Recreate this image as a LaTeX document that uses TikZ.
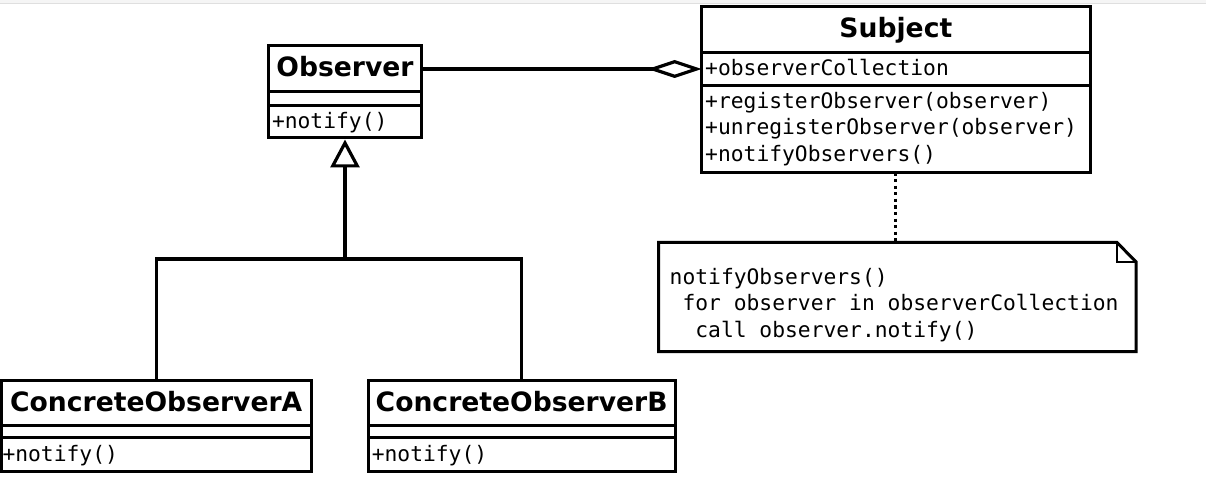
\documentclass[tikz,border=0pt]{standalone}
\usepackage{fontspec}
\newfontfamily\dvsans{DejaVu Sans}
\newfontfamily\dvmono{DejaVu Sans Mono}
\usetikzlibrary{arrows.meta}
\tikzset{
  umlline/.style={line width=3.2pt},
  namebox/.style={draw, line width=3pt, outer sep=0pt, inner sep=0pt,
    font=\dvsans\bfseries\fontsize{26.6}{30}\selectfont,
    text height=19.9pt, text depth=3.4pt},
  emptybox/.style={draw, line width=3pt, outer sep=0pt, inner sep=0pt},
  membox/.style={draw, line width=3pt, outer sep=0pt, inner xsep=3.5pt, inner ysep=0pt,
    align=left, font=\dvmono\fontsize{21.3}{26.5}\selectfont},
  oneline/.style={text height=16pt, text depth=2.1pt},
  notetext/.style={inner sep=0pt, align=left, anchor=north west,
    font=\dvmono\fontsize{21.3}{26.8}\selectfont},
  dotline/.style={line width=3pt, dash pattern=on 3.3pt off 3.3pt},
}
\begin{document}
\begin{tikzpicture}[x=1pt, y=-1pt]
\useasboundingbox (0,0) rectangle (1206,497);
% top band of the screenshot
\fill[gray!8] (0,0) rectangle (1206,3.2);
\draw[gray!25, line width=1pt] (0,3.4) -- (1206,3.4);

% Observer
\node[namebox, minimum width=153pt, minimum height=46.5pt] (obsN) at (345,68.75) {Observer};
\node[emptybox, minimum width=153pt, minimum height=13.5pt, anchor=north] (obsA) at (obsN.south) {};
\node[membox, oneline, text width=146pt, minimum width=153pt, minimum height=32.5pt, anchor=north] (obsM) at (obsA.south) {+notify()};

% Subject
\node[namebox, minimum width=388.3pt, minimum height=45.6pt] (subN) at (895.85,29.5) {Subject};
\node[membox, oneline, text width=381.3pt, minimum width=388.3pt, minimum height=33.4pt, anchor=north] (subA) at (subN.south) {+observerCollection};
\node[membox, text width=381.3pt, minimum width=388.3pt, minimum height=86.6pt, anchor=north] (subM) at (subA.south)
  {+registerObserver(observer)\\+unregisterObserver(observer)\\+notifyObservers()};

% ConcreteObserverA
\node[namebox, minimum width=309.5pt, minimum height=44.3pt] (coAN) at (156.25,402.85) {ConcreteObserverA};
\node[emptybox, minimum width=309.5pt, minimum height=12.7pt, anchor=north] (coAA) at (coAN.south) {};
\node[membox, oneline, inner xsep=1pt, text width=307.5pt, minimum width=309.5pt, minimum height=34pt, anchor=north] (coAM) at (coAA.south) {+notify()};

% ConcreteObserverB
\node[namebox, minimum width=306.7pt, minimum height=44.3pt] (coBN) at (521.65,402.85) {ConcreteObserverB};
\node[emptybox, minimum width=306.7pt, minimum height=12.7pt, anchor=north] (coBA) at (coBN.south) {};
\node[membox, oneline, text width=299.7pt, minimum width=306.7pt, minimum height=34pt, anchor=north] (coBM) at (coBA.south) {+notify()};

% Note
\node[minimum width=477.5pt, minimum height=109.4pt, inner sep=0pt, outer sep=0pt] (note) at (897.25,297) {};
\draw[line width=3pt] (note.north west) -- ([xshift=-19.3pt]note.north east)
  -- ([yshift=-19.4pt]note.north east) -- (note.south east) -- (note.south west) -- cycle;
\draw[line width=2pt] ([xshift=-19.3pt]note.north east) |- ([yshift=-19.4pt]note.north east);
\node[notetext] (noteT) at (669.5,267.8)
  {notifyObservers()\\\ for observer in observerCollection\\\ \ call observer.notify()};

% connectors
\draw[umlline, -{Diamond[open, length=54pt, width=18pt]}] (obsN.east |- subA.west) -- (subA.west);
\draw[dotline] (subM.south) -- (subM.south |- note.north);
\coordinate (join) at (345,259);
\draw[umlline] (coAN.north) |- (join) -| (coBN.north);
\draw[umlline, shorten >=1.5pt, -{Triangle[open, length=28pt, width=29pt]}] (join) -- (obsM.south);
\end{tikzpicture}
\end{document}
